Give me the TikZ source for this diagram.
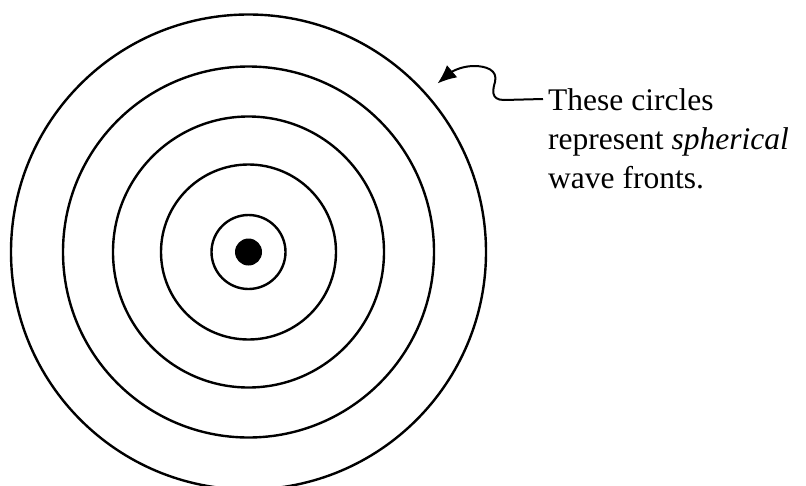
\documentclass[tikz,border=0pt]{standalone}
\usepackage{fontspec}
\setmainfont{Liberation Serif}
\usetikzlibrary{arrows.meta}
\tikzset{
  wave/.style={draw=black, line width=2.4pt},
  pointer/.style={draw=black, line width=2pt, -{Latex[length=19pt,width=16pt]}},
  caption/.style={inner sep=0pt, anchor=base west, align=left,
    font=\fontsize{31.5}{38.6}\selectfont}
}
\begin{document}
\begin{tikzpicture}[x=1pt,y=-1pt]
\useasboundingbox (0,0) rectangle (806,485);
\coordinate (c) at (248.5,252);
\draw[wave] (c) circle[radius=237.5];
\draw[wave] (c) circle[radius=185.5];
\draw[wave] (c) circle[radius=135.5];
\draw[wave] (c) circle[radius=87.5];
\draw[wave] (c) circle[radius=37];
\fill[black] (c) circle[radius=13.5];
\node[caption] (txt) at (548,188) {These circles\\represent \textit{spherical}\\wave fronts.};
\coordinate (start) at (543,99);
\coordinate (tip) at (437.5,83.5);
\draw[pointer] (start) -- (504,100) .. controls (490,100) and (493,89) .. (495,82)
  .. controls (498,70) and (486,66) .. (474,66)
  .. controls (460,66) and (450,73) .. (tip);
\end{tikzpicture}
\end{document}
